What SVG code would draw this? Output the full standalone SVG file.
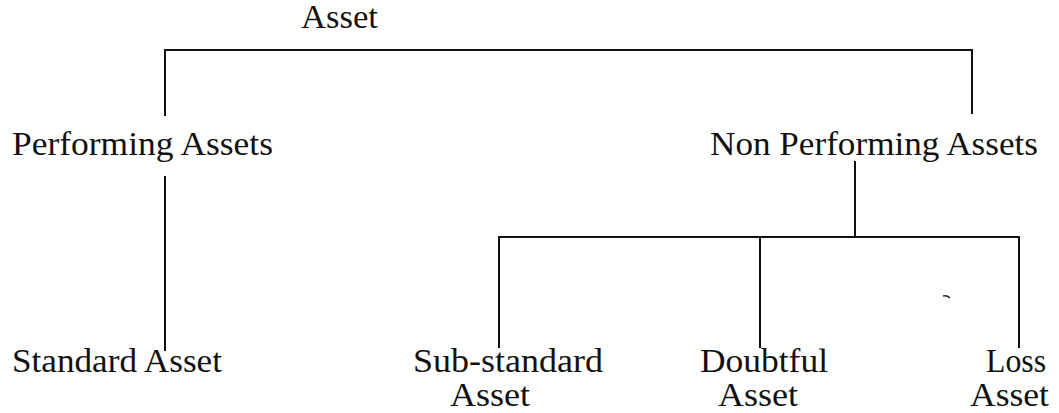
<svg xmlns="http://www.w3.org/2000/svg" width="1059" height="413" viewBox="0 0 1059 413">
  <style>
    .lbl { font-family: "Liberation Serif", "Times New Roman", serif; font-size: 33px; fill: #111; }
    .ln { stroke: #111; stroke-width: 2; fill: none; stroke-linecap: square; }
  </style>
  <rect width="1059" height="413" fill="#fff"/>

  <g id="connectors">
    <!-- root bracket -->
    <path class="ln" d="M165 115 V50 H972 V113"/>
    <!-- performing to standard -->
    <path class="ln" d="M165 177 V350"/>
    <!-- non performing to its three classes -->
    <path class="ln" d="M855 162 V237"/>
    <path class="ln" d="M499 347 V237 H1019 V347"/>
    <path class="ln" d="M760 237 V347"/>
  </g>

  <g id="asset">
    <text class="lbl" x="301" y="28" textLength="77" lengthAdjust="spacingAndGlyphs">Asset</text>
  </g>
  <g id="performing">
    <text class="lbl" x="12" y="155" textLength="261" lengthAdjust="spacingAndGlyphs">Performing Assets</text>
  </g>
  <g id="non-performing">
    <text class="lbl" x="710" y="155" textLength="328" lengthAdjust="spacingAndGlyphs">Non Performing Assets</text>
  </g>
  <g id="standard">
    <text class="lbl" x="12" y="372" textLength="210" lengthAdjust="spacingAndGlyphs">Standard Asset</text>
  </g>
  <g id="sub-standard">
    <text class="lbl" x="413" y="372" textLength="190" lengthAdjust="spacingAndGlyphs">Sub-standard</text>
    <text class="lbl" x="450" y="406" textLength="80" lengthAdjust="spacingAndGlyphs">Asset</text>
  </g>
  <g id="doubtful">
    <text class="lbl" x="700" y="372" textLength="128" lengthAdjust="spacingAndGlyphs">Doubtful</text>
    <text class="lbl" x="718" y="406" textLength="80" lengthAdjust="spacingAndGlyphs">Asset</text>
  </g>
  <g id="loss">
    <text class="lbl" x="986" y="372" textLength="60" lengthAdjust="spacingAndGlyphs">Loss</text>
    <text class="lbl" x="970" y="406" textLength="79" lengthAdjust="spacingAndGlyphs">Asset</text>
  </g>

  <!-- stray tick -->
  <path d="M943 296 q4 -1 7 2" stroke="#222" stroke-width="1.5" fill="none"/>
</svg>
